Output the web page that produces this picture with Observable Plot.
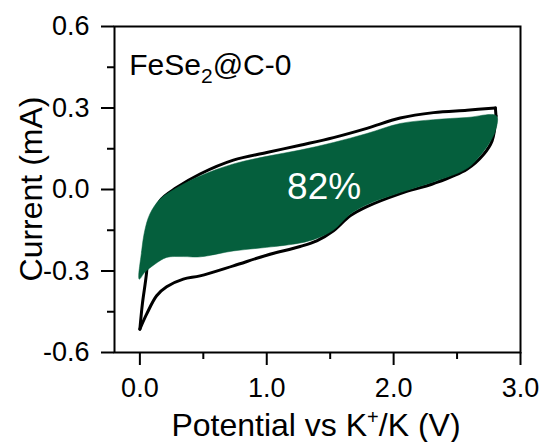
<!DOCTYPE html>
<html><head><meta charset="utf-8">
<script src="https://cdn.jsdelivr.net/npm/d3@7"></script>
<script src="https://cdn.jsdelivr.net/npm/@observablehq/plot@0.6"></script>
<style>
body{margin:0;background:#fff;}
svg{font-family:"Liberation Sans",Arial,Helvetica,sans-serif;}
</style>
</head><body><div id="chart"></div>
<script>
// Total CV loop (black): anodic (upper) branch, from 0 V up to 2.8 V
const cvUpperX = [0.000, 0.020, 0.053, 0.079, 0.158, 0.290, 0.474, 0.737, 1.000, 1.263, 1.526, 1.789, 2.052, 2.315, 2.578, 2.802];
const cvUpperY = [-0.514, -0.420, -0.305, -0.140, -0.042, 0.007, 0.057, 0.108, 0.136, 0.163, 0.191, 0.225, 0.263, 0.283, 0.292, 0.300];
// right turning edge
const cvEdgeX = [2.802, 2.807];
const cvEdgeY = [0.300, 0.271];
// cathodic (lower) branch, from 2.8 V back to 0 V
const cvLowerX = [2.807, 2.776, 2.710, 2.578, 2.315, 2.052, 1.789, 1.657, 1.526, 1.394, 1.263, 1.000, 0.737, 0.474, 0.342, 0.211, 0.132, 0.053, 0.000];
const cvLowerY = [0.271, 0.179, 0.130, 0.075, 0.022, -0.015, -0.063, -0.097, -0.152, -0.189, -0.210, -0.242, -0.281, -0.318, -0.330, -0.358, -0.391, -0.459, -0.514];

// Capacitive contribution region (green), top edge left->right then bottom edge right->left
const capTopX = [-0.005, 0.013, 0.039, 0.079, 0.158, 0.290, 0.474, 0.737, 1.000, 1.263, 1.526, 1.789, 2.052, 2.315, 2.578, 2.810];
const capTopY = [-0.330, -0.230, -0.150, -0.090, -0.036, 0.006, 0.050, 0.094, 0.122, 0.145, 0.173, 0.206, 0.243, 0.257, 0.265, 0.271];
const capBotX = [2.802, 2.749, 2.670, 2.578, 2.315, 2.052, 1.789, 1.657, 1.526, 1.394, 1.263, 1.000, 0.737, 0.474, 0.342, 0.211, 0.118, 0.039];
const capBotY = [0.216, 0.167, 0.118, 0.077, 0.028, -0.011, -0.056, -0.091, -0.149, -0.180, -0.197, -0.213, -0.226, -0.248, -0.247, -0.250, -0.275, -0.305];

const xMajorTicks = [0, 1, 2, 3];
const xMinorTicks = [0.5, 1.5, 2.5];
const yMajorTicks = [-0.6, -0.3, 0, 0.3, 0.6];
const yMinorTicks = [-0.45, -0.15, 0.15, 0.45];

const sampleLabel = ["FeSe", "2", "@C-0"];
const sampleLabelPos = [-0.08, 0.418];
const percentLabel = "82%";
const percentPos = [1.452, 0.01];
const xTitle = ["Potential vs K", "+", "/K (V)"];
const yTitle = "Current (mA)";

const green = "#055f3d";

const cvData = [];
cvUpperX.forEach((x, i) => cvData.push({x, y: cvUpperY[i], seg: "up"}));
cvEdgeX.forEach((x, i) => cvData.push({x, y: cvEdgeY[i], seg: "edge"}));
cvLowerX.forEach((x, i) => cvData.push({x, y: cvLowerY[i], seg: "low"}));

const capData = [];
capTopX.forEach((x, i) => capData.push({x, y: capTopY[i]}));
capBotX.forEach((x, i) => capData.push({x, y: capBotY[i]}));

const fmt = d => d.toFixed(1);

const chart = Plot.plot({
  width: 545, height: 442,
  marginLeft: 114, marginRight: 25, marginTop: 26, marginBottom: 90,
  style: {background: "white", color: "black", fontFamily: '"Liberation Sans",Arial,sans-serif'},
  x: {domain: [-0.2, 3.0], label: null},
  y: {domain: [-0.6, 0.6], label: null},
  marks: [
    Plot.line(cvData, {x: "x", y: "y", z: "seg", stroke: "black", strokeWidth: 3, curve: "catmull-rom"}),
    Plot.line(capData, {x: "x", y: "y", fill: green, stroke: green, strokeWidth: 0.5, curve: "catmull-rom-closed"}),
    Plot.text([percentLabel], {x: () => percentPos[0], y: () => percentPos[1], text: d => d, fill: "white", fontSize: 37}),
    Plot.frame({stroke: "black", strokeWidth: 2}),
    Plot.axisX(xMajorTicks, {tickSize: 13, tickPadding: 12, fontSize: 27, tickFormat: fmt, strokeWidth: 2, label: null}),
    Plot.axisX(xMinorTicks, {tickSize: 7, tickFormat: () => "", strokeWidth: 2, label: null}),
    Plot.axisY(yMajorTicks, {tickSize: 13, tickPadding: 12, fontSize: 27, tickFormat: fmt, strokeWidth: 2, label: null}),
    Plot.axisY(yMinorTicks, {tickSize: 7, tickFormat: () => "", strokeWidth: 2, label: null})
  ]
});

document.getElementById("chart").appendChild(chart);

const svg = d3.select(chart);
const sx = chart.scale("x"), sy = chart.scale("y");

// sample label with subscript
const t1 = svg.append("text")
  .attr("x", sx.apply(sampleLabelPos[0]))
  .attr("y", sy.apply(sampleLabelPos[1]))
  .attr("text-anchor", "start")
  .attr("font-size", 30).attr("fill", "black");
t1.append("tspan").text(sampleLabel[0]);
t1.append("tspan").attr("font-size", 21).attr("dy", 8).text(sampleLabel[1]);
t1.append("tspan").attr("dy", -8).text(sampleLabel[2]);

// x axis title with superscript
const t2 = svg.append("text")
  .attr("x", (sx.apply(-0.2) + sx.apply(3.0)) / 2 - 1)
  .attr("y", 436)
  .attr("text-anchor", "middle").attr("font-size", 32).attr("fill", "black");
t2.append("tspan").text(xTitle[0]);
t2.append("tspan").attr("font-size", 20).attr("dy", -12).text(xTitle[1]);
t2.append("tspan").attr("dy", 12).text(xTitle[2]);

// y axis title
svg.append("text")
  .attr("transform", `translate(42,${(sy.apply(0.6) + sy.apply(-0.6)) / 2}) rotate(-90)`)
  .attr("text-anchor", "middle").attr("font-size", 32).attr("fill", "black")
  .text(yTitle);
</script>
</body></html>
